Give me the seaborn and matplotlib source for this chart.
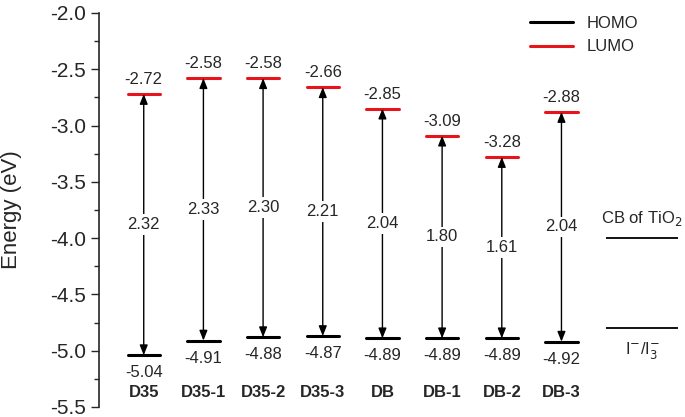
import pandas as pd
import matplotlib
matplotlib.use("Agg")
import matplotlib.pyplot as plt
from matplotlib.ticker import MultipleLocator
import seaborn as sns

dyes = ["D35", "D35-1", "D35-2", "D35-3", "DB", "DB-1", "DB-2", "DB-3"]
homo = [-5.04, -4.91, -4.88, -4.87, -4.89, -4.89, -4.89, -4.92]
lumo = [-2.72, -2.58, -2.58, -2.66, -2.85, -3.09, -3.28, -2.88]
gaps = ["2.32", "2.33", "2.30", "2.21", "2.04", "1.80", "1.61", "2.04"]
cb_tio2 = -4.0
redox = -4.8

sns.set_style("ticks")
plt.rcParams["font.family"] = ["Liberation Sans", "DejaVu Sans"]

# long-form table of level segments for seaborn
half = 0.27
rows = []
for i, (h, l) in enumerate(zip(homo, lumo)):
    for dx in (-half, half):
        rows.append({"x": i + dx, "energy": h, "level": "HOMO", "seg": f"h{i}"})
        rows.append({"x": i + dx, "energy": l, "level": "LUMO", "seg": f"l{i}"})
seg = pd.DataFrame(rows)

fig = plt.figure(figsize=(6.85, 4.17), dpi=100)
ax = fig.add_axes([0.1445, 0.024, 0.852, 0.945])

sns.lineplot(data=seg, x="x", y="energy", hue="level", units="seg", estimator=None,
             palette={"HOMO": "black", "LUMO": "#e8141c"}, linewidth=2.2, ax=ax)

for i, (h, l, g) in enumerate(zip(homo, lumo, gaps)):
    ax.annotate("", xy=(i, l), xytext=(i, h),
                arrowprops=dict(arrowstyle="<|-|>,head_length=0.5,head_width=0.2",
                                color="black", lw=1.0,
                                shrinkA=0, shrinkB=0, mutation_scale=12))
    ax.text(i, (h + l) / 2, g, ha="center", va="center", fontsize=12,
            bbox=dict(facecolor="white", edgecolor="none", pad=2))
    ax.text(i, l + 0.06, f"{l:.2f}", ha="center", va="bottom", fontsize=12)
    ax.text(i, h - 0.09, f"{h:.2f}", ha="center", va="top", fontsize=12)
    ax.text(i, -5.37, dyes[i], ha="center", va="center", fontsize=12, fontweight="bold")

# reference levels
ax.hlines([cb_tio2, redox], 7.75, 8.95, color="black", lw=1.3)
ax.text(8.35, cb_tio2 + 0.17, "CB of TiO$_2$", ha="center", va="center", fontsize=12)
ax.text(8.35, redox - 0.2, r"I$^{-}$/I$_3^{-}$", ha="center", va="center", fontsize=12)

ax.set_xlim(-0.75, 9.03)
ax.set_ylim(-5.5, -2.0)
ax.yaxis.set_major_locator(MultipleLocator(0.5))
ax.yaxis.set_minor_locator(MultipleLocator(0.25))
ax.yaxis.set_major_formatter(matplotlib.ticker.FormatStrFormatter("%.1f"))
ax.tick_params(axis="y", which="major", length=6, width=1, labelsize=15)
ax.tick_params(axis="y", which="minor", length=3.5, width=1)
ax.set_xticks([])
ax.set_xlabel("")
ax.set_ylabel("Energy (eV)", fontsize=16, labelpad=20)
for s in ("top", "right", "bottom"):
    ax.spines[s].set_visible(False)
ax.spines["left"].set_linewidth(1.2)

leg = ax.legend(loc="upper right", bbox_to_anchor=(0.95, 1.03), frameon=False,
                fontsize=12, handlelength=2.6, labelspacing=0.5, title=None)

fig.savefig("out.png", dpi=100)
